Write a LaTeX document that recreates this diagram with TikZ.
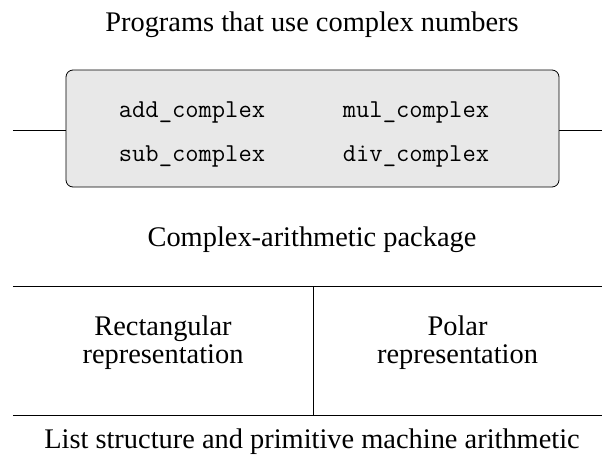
\documentclass[tikz,border=0pt]{standalone}
\usepackage{fontspec}
\setmainfont{Liberation Serif}
\usetikzlibrary{positioning}
\tikzset{
  layer/.style={font=\fontsize{14.2}{17}\selectfont},
  func/.style={font=\ttfamily\fontsize{12.9}{15}\selectfont},
  repr/.style={align=center, font=\fontsize{14.2}{14}\selectfont},
  pkgbox/.style={draw, rounded corners=3.5pt, fill=black!9, minimum width=246.5pt, minimum height=58.5pt}
}
\begin{document}
\begin{tikzpicture}[x=0.5pt,y=-0.5pt]
        \useasboundingbox (0,0) rectangle (602,456);
        \node   (prog) [layer]   at (312,25)   {Programs that use complex numbers};
        \node   (pkg)  [pkgbox]  at (312.5,128.5) {};
        \node   (add)  [func]    at (192,112)  {add\_complex};
        \node   (sub)  [func]    at (192,156)  {sub\_complex};
        \node   (mul)  [func]    at (416,112)  {mul\_complex};
        \node   (div)  [func]    at (416,156)  {div\_complex};
        \node   (cap)  [layer]   at (312,239.5)  {Complex-arithmetic package};
        \node   (rect) [repr]    at (163,343)  {Rectangular\\representation};
        \node   (pol)  [repr]    at (457.5,343)  {Polar\\representation};
        \node   (list) [layer]   at (312,441.5)  {List structure and primitive machine arithmetic};
        \coordinate (lend) at (13,130);
        \coordinate (rend) at (602,130);
        \coordinate (tl) at (13,286);
        \coordinate (tr) at (602,286);
        \coordinate (bl) at (13,415);
        \coordinate (br) at (602,415);
        \coordinate (mt) at (313,286);
        \coordinate (mb) at (313,415);
        \draw (lend) -- (pkg.west |- lend);
        \draw (pkg.east |- rend) -- (rend);
        \draw (tl) -- (tr);
        \draw (bl) -- (br);
        \draw (mt) -- (mb);
    \end{tikzpicture}
\end{document}
